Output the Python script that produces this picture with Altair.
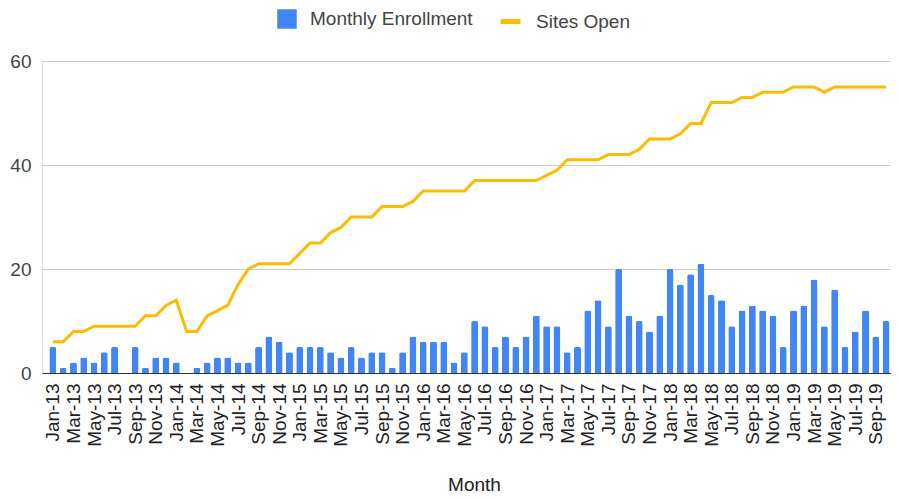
import json
import altair as alt
import pandas as pd

months = [
    "Jan-13", "Feb-13", "Mar-13", "Apr-13", "May-13", "Jun-13", "Jul-13", "Aug-13", "Sep-13", "Oct-13", "Nov-13", "Dec-13",
    "Jan-14", "Feb-14", "Mar-14", "Apr-14", "May-14", "Jun-14", "Jul-14", "Aug-14", "Sep-14", "Oct-14", "Nov-14", "Dec-14",
    "Jan-15", "Feb-15", "Mar-15", "Apr-15", "May-15", "Jun-15", "Jul-15", "Aug-15", "Sep-15", "Oct-15", "Nov-15", "Dec-15",
    "Jan-16", "Feb-16", "Mar-16", "Apr-16", "May-16", "Jun-16", "Jul-16", "Aug-16", "Sep-16", "Oct-16", "Nov-16", "Dec-16",
    "Jan-17", "Feb-17", "Mar-17", "Apr-17", "May-17", "Jun-17", "Jul-17", "Aug-17", "Sep-17", "Oct-17", "Nov-17", "Dec-17",
    "Jan-18", "Feb-18", "Mar-18", "Apr-18", "May-18", "Jun-18", "Jul-18", "Aug-18", "Sep-18", "Oct-18", "Nov-18", "Dec-18",
    "Jan-19", "Feb-19", "Mar-19", "Apr-19", "May-19", "Jun-19", "Jul-19", "Aug-19", "Sep-19", "Oct-19",
]

monthly_enrollment = [
    5, 1, 2, 3, 2, 4, 5, 0, 5, 1, 3, 3,
    2, 0, 1, 2, 3, 3, 2, 2, 5, 7, 6, 4,
    5, 5, 5, 4, 3, 5, 3, 4, 4, 1, 4, 7,
    6, 6, 6, 2, 4, 10, 9, 5, 7, 5, 7, 11,
    9, 9, 4, 5, 12, 14, 9, 20, 11, 10, 8, 11,
    20, 17, 19, 21, 15, 14, 9, 12, 13, 12, 11, 5,
    12, 13, 18, 9, 16, 5, 8, 12, 7, 10,
]

sites_open = [
    6, 6, 8, 8, 9, 9, 9, 9, 9, 11, 11, 13,
    14, 8, 8, 11, 12, 13, 17, 20, 21, 21, 21, 21,
    23, 25, 25, 27, 28, 30, 30, 30, 32, 32, 32, 33,
    35, 35, 35, 35, 35, 37, 37, 37, 37, 37, 37, 37,
    38, 39, 41, 41, 41, 41, 42, 42, 42, 43, 45, 45,
    45, 46, 48, 48, 52, 52, 52, 53, 53, 54, 54, 54,
    55, 55, 55, 54, 55, 55, 55, 55, 55, 55,
]

y_ticks = [0, 20, 40, 60]

df = pd.DataFrame({
    "idx": list(range(len(months))),
    "month": months,
    "enrollment": monthly_enrollment,
    "sites": sites_open,
})

FONT = "Liberation Sans"
BLUE = "#4285F4"
YELLOW = "#FBBC04"

label_expr = json.dumps(months) + "[datum.value]"
tick_vals = list(range(0, len(months), 2))

x_enc = alt.X(
    "idx:Q",
    scale=alt.Scale(domain=[-0.57, 80.99], nice=False, zero=False),
    axis=alt.Axis(
        values=tick_vals,
        labelExpr=label_expr,
        labelAngle=270,
        labelAlign="right",
        labelBaseline="middle",
        labelFont=FONT,
        labelFontSize=19,
        labelColor="#222222",
        labelPadding=10,
        labelOverlap=False,
        labelBound=False,
        grid=False,
        ticks=False,
        domain=True,
        domainColor="#333333",
        domainWidth=1.2,
        title="Month",
        titleFont=FONT,
        titleFontSize=19,
        titleFontWeight="normal",
        titleColor="#222222",
        titlePadding=29,
        titleX=432,
        titleAlign="center",
    ),
)

y_axis = alt.Axis(
    values=y_ticks,
    labelFont=FONT,
    labelFontSize=19,
    labelColor="#444444",
    labelPadding=11,
    grid=True,
    gridColor="#cccccc",
    gridWidth=1,
    domain=False,
    ticks=False,
    title=None,
)
y_scale = alt.Scale(domain=[0, 60], nice=False)

bars = alt.Chart(df).transform_calculate(
    s1="'Monthly Enrollment'"
).mark_bar(
    size=7, cornerRadiusTopLeft=2, cornerRadiusTopRight=2
).encode(
    x=x_enc,
    y=alt.Y("enrollment:Q", scale=y_scale, axis=y_axis),
    color=alt.Color(
        "s1:N",
        scale=alt.Scale(domain=["Monthly Enrollment"], range=[BLUE]),
        legend=alt.Legend(
            title=None, orient="none", legendX=235, legendY=-52,
            symbolType="square", symbolSize=380, symbolStrokeWidth=0,
            labelFont=FONT, labelFontSize=19, labelColor="#444444",
            labelOffset=13, labelLimit=0, padding=0,
        ),
    ),
    tooltip=["month:N", "enrollment:Q"],
)

line = alt.Chart(df).transform_calculate(
    s2="'Sites Open'"
).mark_line(strokeWidth=3).encode(
    x=x_enc,
    y=alt.Y("sites:Q", scale=y_scale, axis=y_axis),
    stroke=alt.Stroke(
        "s2:N",
        scale=alt.Scale(domain=["Sites Open"], range=[YELLOW]),
        legend=alt.Legend(
            title=None, orient="none", legendX=456, legendY=-52,
            symbolType="stroke", symbolSize=400, symbolStrokeWidth=5,
            labelFont=FONT, labelFontSize=19, labelColor="#444444",
            labelOffset=13, labelLimit=0, padding=0,
        ),
    ),
    tooltip=["month:N", "sites:Q"],
)

chart = alt.layer(bars, line).properties(
    width=849,
    height=312,
    autosize=alt.AutoSizeParams(type="none"),
    padding={"left": 34, "top": 53, "right": 0, "bottom": 132},
).configure_view(stroke=None).configure(background="white")

chart.save("out.html", embed_options={"renderer": "svg", "actions": False})
